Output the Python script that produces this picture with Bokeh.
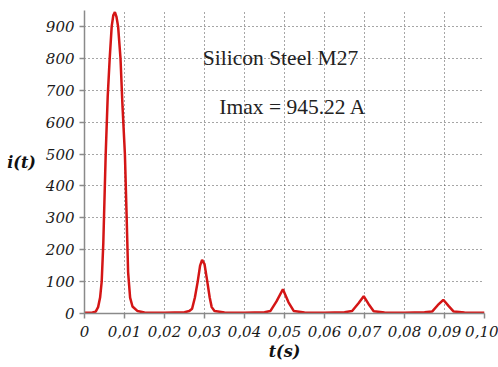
from bokeh.plotting import figure
from bokeh.models import Range1d, FixedTicker, Label
from bokeh.embed import file_html
from bokeh.resources import INLINE

# current waveform
t_vals = [0, 0.002, 0.0028, 0.0034, 0.0039, 0.0043, 0.0047, 0.005, 0.0053, 0.0058,
          0.0063, 0.0068, 0.0072, 0.0076, 0.008, 0.0084, 0.009, 0.0095, 0.0101,
          0.0105, 0.0109, 0.0114, 0.012, 0.0132, 0.015, 0.02, 0.025, 0.0262,
          0.0269, 0.0276, 0.0283, 0.0289, 0.0294, 0.03, 0.0307, 0.0313, 0.0318,
          0.0325, 0.035, 0.04, 0.045, 0.0465, 0.048, 0.0496, 0.051, 0.0523,
          0.055, 0.06, 0.065, 0.0669, 0.0685, 0.0698, 0.071, 0.0723, 0.075,
          0.08, 0.085, 0.0869, 0.0883, 0.0897, 0.091, 0.0923, 0.095, 0.1]
i_vals = [2, 3, 6, 20, 50, 100, 220, 360, 500, 680,
          800, 900, 935, 945, 930, 900, 800, 650, 500,
          320, 130, 50, 22, 8, 3, 2, 4, 8,
          15, 50, 100, 150, 168, 155, 100, 50, 20,
          8, 3, 2, 4, 8, 38, 76, 35, 8,
          3, 2, 4, 8, 32, 54, 30, 7, 3,
          2, 4, 6, 26, 43, 24, 6, 3, 2]

x_ticks = [0, 0.01, 0.02, 0.03, 0.04, 0.05, 0.06, 0.07, 0.08, 0.09, 0.10]
x_tick_labels = ["0", "0,01", "0,02", "0,03", "0,04", "0,05", "0,06", "0,07", "0,08", "0,09", "0,10"]
y_ticks = [0, 100, 200, 300, 400, 500, 600, 700, 800, 900]

x_label = "t(s)"
y_label = "i(t)"
title_text = "Silicon Steel M27"
imax_text = "Imax = 945.22 A"

ITAL = "DejaVu Serif"
SERIF = "Liberation Serif"

p = figure(width=498, height=367, output_backend="svg", toolbar_location=None,
           x_range=Range1d(0, 0.1), y_range=Range1d(0, 950),
           min_border_left=84, min_border_right=14, min_border_top=10, min_border_bottom=54)
p.outline_line_color = None
p.background_fill_color = "white"

for ax in (p.xaxis[0], p.yaxis[0]):
    ax.axis_line_color = "#8a8a8a"
    ax.axis_line_width = 1.5
    ax.major_tick_line_color = "#8a8a8a"
    ax.major_tick_line_width = 1.5
    ax.major_tick_out = 5
    ax.major_tick_in = 0
    ax.minor_tick_line_color = None
    ax.major_label_text_font = ITAL
    ax.major_label_text_font_style = "italic"
    ax.major_label_text_font_size = "15px"
    ax.major_label_text_color = "#1a1a1a"
    ax.axis_label_text_font = ITAL
    ax.axis_label_text_font_style = "bold italic"
    ax.axis_label_text_font_size = "16px"
    ax.axis_label_text_color = "#111111"

p.xaxis.ticker = FixedTicker(ticks=x_ticks)
p.xaxis.major_label_overrides = {t: s for t, s in zip(x_ticks, x_tick_labels)}
p.xaxis.major_label_standoff = 7
p.xaxis.axis_label = x_label
p.xaxis.axis_label_standoff = 2

p.yaxis.ticker = FixedTicker(ticks=y_ticks)
p.yaxis.major_label_standoff = 5
p.yaxis.axis_label = y_label
p.yaxis.axis_label_orientation = "horizontal"
p.yaxis.axis_label_standoff = 7

for g in (p.xgrid[0], p.ygrid[0]):
    g.grid_line_color = "#4d4d4d"
    g.grid_line_dash = "1 3"
    g.grid_line_width = 1

p.line(t_vals, i_vals, line_color="#d41515", line_width=2.5)

p.add_layout(Label(x=0.049, y=802, text=title_text, text_align="center", text_baseline="alphabetic",
                   text_font=SERIF, text_font_size="21.5px", text_color="#222222"))
p.add_layout(Label(x=0.0521, y=646, text=imax_text, text_align="center", text_baseline="alphabetic",
                   text_font=SERIF, text_font_size="21.5px", text_color="#222222"))

open("out.html", "w").write(file_html(p, INLINE))
